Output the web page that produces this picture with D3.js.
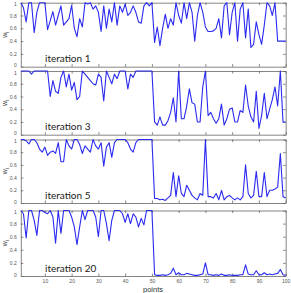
<html>
  <head>
    <style>
      body { margin: 0; background: #fff; }
      svg text { font-family: "Liberation Sans", Arial, sans-serif; }
      .lbl { font-family: Lato, "Open Sans", sans-serif; }
    </style>
  </head>
  <body>
    <svg id="chart" width="291" height="293"></svg>
    <script type="text/javascript" src="https://cdn.jsdelivr.net/npm/d3@7"></script>
    <script type="text/javascript">
// weights w_i per point (points 1..100)
var iter1 = [1.0, 0.92, 0.7, 1.0, 1.0, 0.53, 0.85, 1.0, 1.0, 1.0,
             0.58, 0.72, 0.86, 0.65, 0.8, 0.95, 0.65, 0.7, 0.75, 0.96,
             0.6, 0.47, 0.75, 0.62, 1.0, 0.98, 1.0, 0.9, 0.95, 0.85,
             0.55, 0.95, 0.6, 0.9, 0.7, 1.0, 0.65, 0.95, 0.85, 0.98,
             0.8, 0.85, 0.95, 0.85, 0.7, 0.68, 0.95, 1.0, 0.95, 1.0,
             0.38, 0.62, 0.33, 0.6, 0.82, 0.6, 0.75, 0.65, 1.0, 0.8,
             0.68, 1.0, 0.75, 1.0, 0.85, 0.4, 0.8, 1.0, 0.85, 0.62,
             0.55, 0.55, 0.56, 0.6, 0.75, 0.45, 0.95, 1.0, 0.5, 0.85,
             1.0, 0.4, 0.9, 1.0, 0.45, 0.9, 0.3, 0.35, 0.7, 0.5,
             0.35, 0.65, 1.0, 0.95, 0.8, 1.0, 0.4, 0.4, 0.4, 0.4];
var iter3 = [1, 1, 1, 1, 0.95, 1, 1, 1, 1, 1,
             1, 0.6, 0.85, 0.68, 0.65, 0.9, 1.0, 0.75, 0.95, 0.7,
             0.82, 0.55, 0.6, 1.0, 0.95, 0.9, 0.85, 0.8, 0.78, 0.95,
             0.9, 0.53, 1.0, 0.9, 0.8, 0.95, 0.88, 1.0, 1.0, 1.0,
             0.72, 0.95, 0.9, 1, 1, 1, 1, 1, 1, 1,
             0.2, 0.15, 0.28, 0.15, 0.15, 0.22, 0.35, 0.58, 0.2, 1.0,
             0.25, 0.25, 0.45, 0.72, 0.5, 0.48, 0.2, 0.2, 0.75, 1.0,
             0.3, 0.35, 0.25, 0.18, 0.25, 0.48, 0.15, 0.25, 0.4, 0.42,
             0.2, 0.2, 0.38, 0.35, 0.78, 0.45, 0.28, 0.2, 0.68, 0.1,
             0.3, 0.65, 0.25, 0.4, 0.55, 0.75, 0.45, 1.0, 0.2, 0.2];
var iter5 = [1.0, 1.0, 0.98, 0.93, 1.0, 1.0, 0.95, 0.85, 0.8, 0.88,
             0.75, 0.8, 0.82, 0.78, 0.95, 0.65, 0.65, 1.0, 0.9, 0.85,
             1.0, 1.0, 0.92, 0.78, 0.9, 0.85, 0.8, 1.0, 0.9, 0.85,
             0.95, 0.58, 0.88, 0.95, 0.72, 0.95, 1.0, 1.0, 1.0, 1.0,
             0.95, 0.85, 0.8, 0.95, 1.0, 1.0, 1.0, 1.0, 1.0, 1.0,
             0.07, 0.07, 0.05, 0.06, 0.04, 0.08, 0.12, 0.48, 0.1, 0.43,
             0.15, 0.1, 0.28, 0.2, 0.12, 0.08, 0.05, 0.15, 0.12, 1.0,
             0.1, 0.1, 0.08, 0.15, 0.05, 0.2, 0.05, 0.1, 0.12, 0.08,
             0.05, 0.08, 0.05, 0.1, 0.6, 0.15, 0.08, 0.12, 0.5, 0.1,
             0.1, 0.48, 0.1, 0.2, 0.2, 0.22, 0.25, 0.78, 0.1, 0.08];
var iter20 = [1.0, 0.95, 0.58, 1.0, 1.0, 0.85, 0.62, 1.0, 1.0, 0.97,
              0.95, 1.0, 0.9, 0.5, 1.0, 0.65, 1.0, 1.0, 1.0, 0.9,
              0.75, 0.48, 0.75, 1.0, 0.86, 1.0, 1.0, 1.0, 0.9, 0.6,
              1.0, 1.0, 0.8, 0.54, 0.85, 1.0, 1.0, 1.0, 0.95, 0.82,
              0.95, 0.8, 0.95, 0.9, 0.75, 0.88, 0.78, 1.0, 1.0, 1.0,
              0.02, 0.01, 0.01, 0.02, 0.01, 0.02, 0.04, 0.12, 0.02, 0.05,
              0.02, 0.02, 0.04, 0.03, 0.02, 0.01, 0.01, 0.02, 0.03, 0.2,
              0.02, 0.02, 0.01, 0.02, 0.01, 0.03, 0.01, 0.01, 0.02, 0.01,
              0.01, 0.01, 0.02, 0.02, 0.17, 0.03, 0.02, 0.02, 0.08, 0.02,
              0.02, 0.05, 0.02, 0.03, 0.02, 0.03, 0.04, 0.1, 0.02, 0.01];

var panelNames = ['iteration 1', 'iteration 3', 'iteration 5', 'iteration 20'];
var xTicks = [10, 20, 30, 40, 50, 60, 70, 80, 90, 100];
var yTicks = [0, 0.2, 0.4, 0.6, 0.8, 1];

var series = [iter1, iter3, iter5, iter20];
var tops = [2.7, 71, 139.5, 210.5];
var bottoms = [66.7, 134.7, 203, 276];
var left = 20.8, right = 285.7;

var svg = d3.select('#chart');
var x = d3.scaleLinear().domain([1, 100]).range([left, right]);

series.forEach(function(vals, k) {
  var y = d3.scaleLinear().domain([0, 1]).range([bottoms[k], tops[k]]);
  var g = svg.append('g');
  var last = k == series.length - 1;

  // box with inward ticks, matlab style
  var ya = g.append('g').attr('transform', 'translate(' + left + ',0)')
    .call(d3.axisLeft(y).tickValues(yTicks).tickSizeInner(-2.5).tickSizeOuter(0)
      .tickPadding(4).tickFormat(d3.format('~g')));
  g.append('g').attr('transform', 'translate(' + right + ',0)')
    .call(d3.axisRight(y).tickValues(yTicks).tickSizeInner(-2.5).tickSizeOuter(0).tickFormat(''));
  g.append('g').attr('transform', 'translate(0,' + tops[k] + ')')
    .call(d3.axisTop(x).tickValues(xTicks).tickSizeInner(-2.5).tickSizeOuter(0).tickFormat(''));
  g.append('g').attr('transform', 'translate(0,' + bottoms[k] + ')')
    .call(d3.axisBottom(x).tickValues(xTicks).tickSizeInner(-2.5).tickSizeOuter(0)
      .tickPadding(3).tickFormat(last ? d3.format('d') : ''));

  g.selectAll('.domain, .tick line').attr('stroke', '#666').attr('stroke-width', 0.8);
  g.selectAll('.tick text').attr('fill', '#555').style('font-size', '5px');
  // keep the 0 of one panel and the 1 of the next apart
  ya.selectAll('.tick text').attr('dy', function(d) { return d == 0 ? '0.05em' : d == 1 ? '0.6em' : '0.32em'; });

  g.append('path')
    .datum(vals)
    .attr('fill', 'none')
    .attr('stroke', '#2a2af0')
    .attr('stroke-width', 1.1)
    .attr('stroke-linejoin', 'round')
    .attr('d', d3.line().x(function(d, i) { return x(i + 1); }).y(function(d) { return y(d); }));

  g.append('text')
    .attr('class', 'lbl')
    .attr('x', 45)
    .attr('y', bottoms[k] - 4.5)
    .attr('fill', '#222')
    .style('font-size', '10px')
    .text(panelNames[k]);

  var wl = g.append('text')
    .attr('transform', 'translate(7,' + (tops[k] + bottoms[k]) / 2 + ') rotate(-90)')
    .attr('text-anchor', 'middle')
    .attr('fill', '#333')
    .style('font-size', '7px');
  wl.append('tspan').text('w');
  wl.append('tspan').attr('dy', 2).style('font-size', '5px').text('i');
});

svg.append('text')
  .attr('x', 153)
  .attr('y', 291.5)
  .attr('text-anchor', 'middle')
  .attr('fill', '#333')
  .style('font-size', '7.5px')
  .text('points');
    </script>
  </body>
</html>
